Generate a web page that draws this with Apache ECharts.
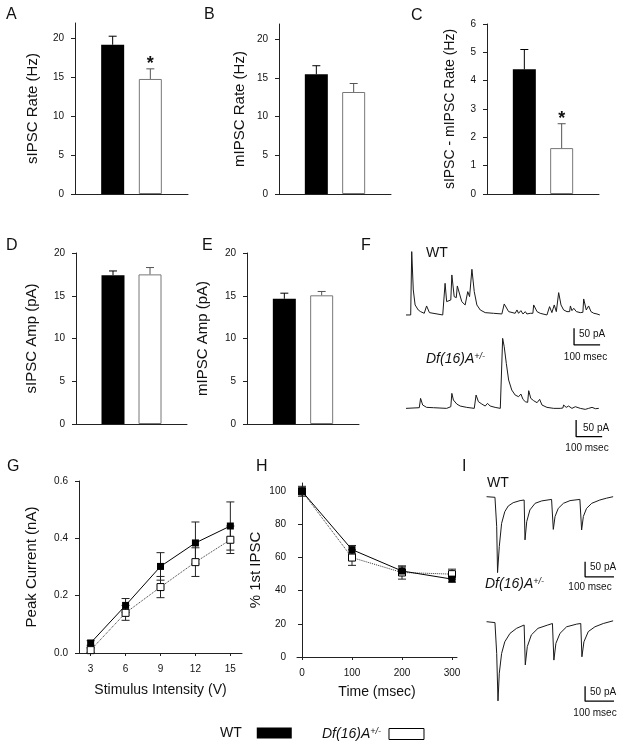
<!DOCTYPE html>
<html><head><meta charset="utf-8">
<script src="https://cdn.jsdelivr.net/npm/echarts@6/dist/echarts.min.js"></script>
<style>html,body{margin:0;padding:0;background:#fff}#c{width:624px;height:748px}</style>
</head><body><div id="c"></div>
<script>
// ---------------- DATA ----------------
const groupNames = ['WT', 'Df(16)A+/-'];
const barCats = ['pre', 'WT', 'Df', 'post'];

// A: sIPSC rate (Hz)
const sRate = [19.2, 14.8], sRateErr = [1.1, 1.3], sRateSig = [0, 1];
// B: mIPSC rate (Hz)
const mRate = [15.5, 13.2], mRateErr = [1.1, 1.1], mRateSig = [0, 0];
// C: sIPSC - mIPSC rate (Hz)
const diffRate = [4.4, 1.62], diffRateErr = [0.7, 0.86], diffRateSig = [0, 1];
// D: sIPSC amplitude (pA)
const sAmp = [17.4, 17.5], sAmpErr = [0.5, 0.8], sAmpSig = [0, 0];
// E: mIPSC amplitude (pA)
const mAmp = [14.65, 15.05], mAmpErr = [0.65, 0.45], mAmpSig = [0, 0];

const rateTicks = [0, 5, 10, 15, 20];
const diffTicks = [0, 1, 2, 3, 4, 5, 6];

// G: peak current vs stimulus intensity
const stimV = [3, 6, 9, 12, 15];
const peakWT = [0.035, 0.166, 0.302, 0.384, 0.443];
const peakWTErr = [0.008, 0.024, 0.048, 0.073, 0.084];
const peakDf = [0.01, 0.14, 0.23, 0.317, 0.395];
const peakDfErr = [0.008, 0.026, 0.037, 0.05, 0.048];
const peakTicks = [0, 0.2, 0.4, 0.6];

// H: % of 1st IPSC vs time
const timeMs = [0, 100, 200, 300];
const ppWT = [100, 64.8, 51.9, 47];
const ppWTErr = [3, 2.5, 2.5, 1.8];
const ppDf = [100, 60, 51, 50];
const ppDfErr = [2, 4.7, 4, 3];
const pctTicks = [0, 20, 40, 60, 80, 100];

// F: spontaneous IPSC traces [msec, pA]
const fTraceWT = [[0,0],[18,0],[22,190],[28,75],[35,30],[47,15],[56,10],[70,5],[75,5],[79,27],[90,7],[141,0],[147,2],[150,95],[156,40],[172,45],[176,120],[185,55],[193,52],[197,87],[214,40],[227,30],[234,32],[237,70],[244,55],[250,58],[253,137],[262,70],[272,30],[285,15],[304,7],[336,5],[368,3],[374,3],[377,33],[394,10],[419,5],[426,15],[432,5],[441,13],[449,3],[458,10],[464,3],[477,5],[487,5],[490,30],[503,10],[515,5],[541,0],[548,2],[551,25],[560,7],[566,8],[569,30],[577,10],[583,12],[586,67],[595,30],[605,15],[618,10],[628,10],[631,27],[637,13],[644,20],[654,10],[669,7],[679,8],[682,48],[692,15],[698,13],[701,27],[710,10],[721,5],[733,3],[744,0]];
const fTraceDf = [[0,0],[51,2],[54,2],[56,30],[64,10],[79,3],[105,2],[156,0],[172,5],[176,45],[182,25],[195,13],[208,7],[233,3],[262,0],[266,2],[269,40],[278,20],[291,13],[304,7],[310,8],[313,15],[323,7],[342,3],[362,0],[368,3],[371,210],[377,185],[385,135],[394,85],[406,55],[419,40],[432,35],[437,33],[441,43],[449,27],[458,20],[467,18],[471,53],[479,30],[490,23],[503,17],[510,15],[513,27],[522,10],[541,3],[567,0],[592,0],[602,1],[605,10],[615,3],[624,7],[637,0],[650,5],[669,0],[688,-3],[701,0],[714,3],[727,-1],[740,0]];

// I: evoked IPSC trains (4 pulses, 100 msec apart) [msec, pA]
const iTraceWT = [[2,2],[31,0],[37,-98],[40,-251],[46,-164],[54,-87],[65,-48],[77,-29],[94,-18],[118,-11],[132,-9],[135,-142],[141,-81],[152,-42],[170,-20],[193,-12],[227,-7],[233,-107],[239,-64],[250,-37],[268,-20],[291,-11],[325,-7],[331,-109],[337,-64],[348,-37],[366,-20],[394,-9],[417,-3],[440,2]];
const iTraceDf = [[2,0],[31,-3],[37,-106],[41.5,-264],[46,-172],[54,-106],[65,-67],[83,-39],[106,-22],[132,-11],[136,-144],[143,-83],[157,-44],[180,-22],[214,-11],[230,-6],[235,-128],[242,-72],[256,-39],[279,-17],[314,-8],[328,-6],[332,-117],[339,-67],[354,-33],[377,-17],[406,-6],[440,3]];

// scale bars: 50 pA, 100 msec
const scalePA = 50, scaleMs = 100;
const fScaleCornerWT = [645, -90];
const fScaleCornerDf = [653, -85];
const iScaleCorner = [343, -265];

// ---------------- STYLE / LAYOUT ----------------
const FONT = '"Liberation Sans", Arial, sans-serif';
const TXT = '#111';
const AX = '#222';

const grids = [
  {left: 75,  top: 23,  width: 113, height: 171},  // 0 A
  {left: 279, top: 24,  width: 112, height: 170},  // 1 B
  {left: 487, top: 24,  width: 112, height: 170},  // 2 C
  {left: 76,  top: 253, width: 111, height: 171},  // 3 D
  {left: 247, top: 253, width: 112, height: 171},  // 4 E
  {left: 79,  top: 481, width: 163, height: 172},  // 5 G
  {left: 297, top: 483, width: 160, height: 174},  // 6 H
  {left: 406, top: 248.3, width: 198, height: 100},// 7 F WT
  {left: 406, top: 331.7, width: 198, height: 110},// 8 F Df
  {left: 486, top: 488.3, width: 130, height: 99}, // 9 I WT
  {left: 486, top: 612.7, width: 130, height: 99}  // 10 I Df
];

const xAxis = [], yAxis = [], series = [], graphic = [];

function yAxisCfg(gi, min, max, ticks, name, gap, size, fmt) {
  return {
    type: 'value', gridIndex: gi, min: min, max: max,
    name: name, nameLocation: 'middle', nameGap: gap, nameRotate: 90,
    nameTextStyle: {fontSize: size, fontFamily: FONT, color: TXT},
    axisLine: {show: true, lineStyle: {color: AX, width: 1}},
    axisTick: {show: true, inside: false, length: 4, customValues: ticks, lineStyle: {color: AX}},
    axisLabel: {customValues: ticks, fontSize: 10, fontFamily: FONT, color: TXT, margin: 11, formatter: fmt},
    splitLine: {show: false}
  };
}

function barErr(params, api) {
  const x = api.value(0), v = api.value(1), e = api.value(2), sig = api.value(3), g = api.value(4);
  const p0 = api.coord([x, v]), p1 = api.coord([x, v + e]);
  const col = g === 0 ? '#000' : '#555';
  const ch = [
    {type: 'line', shape: {x1: p0[0], y1: p0[1], x2: p1[0], y2: p1[1]}, style: {stroke: col, lineWidth: 1}},
    {type: 'line', shape: {x1: p1[0] - 4, y1: p1[1], x2: p1[0] + 4, y2: p1[1]}, style: {stroke: col, lineWidth: 1}}
  ];
  if (sig) {
    ch.push({type: 'text', x: p1[0], y: p1[1] - 5,
      style: {text: '*', fontSize: 18, fontWeight: 'bold', fontFamily: FONT, fill: TXT, align: 'center', verticalAlign: 'middle'}});
  }
  return {type: 'group', children: ch};
}

function addBarPanel(gi, vals, errs, sig, yMax, ticks, name, gap, size) {
  xAxis.push({type: 'category', gridIndex: gi, data: barCats, boundaryGap: false,
    axisTick: {show: false}, axisLabel: {show: false},
    axisLine: {show: true, lineStyle: {color: AX, width: 1}}, splitLine: {show: false}});
  yAxis.push(yAxisCfg(gi, 0, yMax, ticks, name, gap, size));
  series.push({type: 'bar', name: groupNames[0], xAxisIndex: gi, yAxisIndex: gi,
    data: ['-', vals[0], '-', '-'], barWidth: 23, barGap: '-100%',
    itemStyle: {color: '#000'}, silent: true});
  series.push({type: 'bar', name: groupNames[1], xAxisIndex: gi, yAxisIndex: gi,
    data: ['-', '-', vals[1], '-'], barWidth: 23, barGap: '-100%',
    itemStyle: {color: '#fff', borderColor: '#777', borderWidth: 1}, silent: true});
  series.push({type: 'custom', xAxisIndex: gi, yAxisIndex: gi, renderItem: barErr, z: 5, silent: true,
    data: [[1, vals[0], errs[0], sig[0], 0], [2, vals[1], errs[1], sig[1], 1]]});
}

addBarPanel(0, sRate, sRateErr, sRateSig, 22, rateTicks, 'sIPSC Rate (Hz)', 35, 15);
addBarPanel(1, mRate, mRateErr, mRateSig, 22, rateTicks, 'mIPSC Rate (Hz)', 32, 15);
addBarPanel(2, diffRate, diffRateErr, diffRateSig, 6, diffTicks, 'sIPSC - mIPSC Rate (Hz)', 30, 14);
addBarPanel(3, sAmp, sAmpErr, sAmpSig, 20, rateTicks, 'sIPSC Amp (pA)', 37, 15);
addBarPanel(4, mAmp, mAmpErr, mAmpSig, 20, rateTicks, 'mIPSC Amp (pA)', 37, 15);

function xyErr(params, api) {
  const x = api.value(0), y = api.value(1), e = api.value(2);
  const lo = api.coord([x, y - e]), hi = api.coord([x, y + e]);
  const st = {stroke: '#222', lineWidth: 1};
  return {type: 'group', children: [
    {type: 'line', shape: {x1: lo[0], y1: lo[1], x2: hi[0], y2: hi[1]}, style: st},
    {type: 'line', shape: {x1: hi[0] - 4, y1: hi[1], x2: hi[0] + 4, y2: hi[1]}, style: st},
    {type: 'line', shape: {x1: lo[0] - 4, y1: lo[1], x2: lo[0] + 4, y2: lo[1]}, style: st}
  ]};
}

function addLinePanel(gi, xs, xMin, xMax, xTicks, xName, xGap, yMax, yTicks, yName, yGap, wt, wtErr, df, dfErr, yFmt) {
  xAxis.push({type: 'value', gridIndex: gi, min: xMin, max: xMax,
    name: xName, nameLocation: 'middle', nameGap: xGap,
    nameTextStyle: {fontSize: 14, fontFamily: FONT, color: TXT},
    axisLine: {show: true, lineStyle: {color: AX, width: 1}},
    axisTick: {show: true, inside: false, length: 3, customValues: xTicks, lineStyle: {color: AX}},
    axisLabel: {customValues: xTicks, fontSize: 10, fontFamily: FONT, color: TXT, margin: 11},
    splitLine: {show: false}});
  yAxis.push(yAxisCfg(gi, 0, yMax, yTicks, yName, yGap, 15, yFmt));
  series.push({type: 'custom', xAxisIndex: gi, yAxisIndex: gi, renderItem: xyErr, z: 2, silent: true,
    data: xs.map((x, i) => [x, wt[i], wtErr[i]])});
  series.push({type: 'custom', xAxisIndex: gi, yAxisIndex: gi, renderItem: xyErr, z: 2, silent: true,
    data: xs.map((x, i) => [x, df[i], dfErr[i]])});
  series.push({type: 'line', name: groupNames[1], xAxisIndex: gi, yAxisIndex: gi, z: 3,
    data: xs.map((x, i) => [x, df[i]]), symbol: 'rect', symbolSize: 7,
    lineStyle: {color: '#333', width: 1, type: 'dotted'},
    itemStyle: {color: '#fff', borderColor: '#000', borderWidth: 1}, silent: true});
  series.push({type: 'line', name: groupNames[0], xAxisIndex: gi, yAxisIndex: gi, z: 4,
    data: xs.map((x, i) => [x, wt[i]]), symbol: 'rect', symbolSize: 7,
    lineStyle: {color: '#000', width: 1},
    itemStyle: {color: '#000', borderColor: '#000', borderWidth: 0}, silent: true});
}

addLinePanel(5, stimV, 2, 16, stimV, 'Stimulus Intensity (V)', 30, 0.6, peakTicks, 'Peak Current (nA)', 40,
  peakWT, peakWTErr, peakDf, peakDfErr, v => v.toFixed(1));
addLinePanel(6, timeMs, -10, 310, timeMs, 'Time (msec)', 28, 105, pctTicks, '% 1st IPSC', 34,
  ppWT, ppWTErr, ppDf, ppDfErr);

function scaleBar(c) {
  return [[c[0], c[1] + scalePA], [c[0], c[1]], [c[0] + scaleMs, c[1]]];
}

function addTracePanel(gi, xMax, yMin, yMax, trace, corner) {
  xAxis.push({type: 'value', gridIndex: gi, min: 0, max: xMax, show: false});
  yAxis.push({type: 'value', gridIndex: gi, min: yMin, max: yMax, show: false});
  series.push({type: 'line', xAxisIndex: gi, yAxisIndex: gi, data: trace, showSymbol: false, symbol: 'none',
    lineStyle: {color: '#1a1a1a', width: 1}, silent: true});
  series.push({type: 'line', xAxisIndex: gi, yAxisIndex: gi, data: scaleBar(corner), showSymbol: false, symbol: 'none',
    lineStyle: {color: '#000', width: 1.3}, silent: true});
}

addTracePanel(7, 760, -100, 200, fTraceWT, fScaleCornerWT);
addTracePanel(8, 760, -100, 230, fTraceDf, fScaleCornerDf);
addTracePanel(9, 450, -300, 30, iTraceWT, iScaleCorner);
addTracePanel(10, 450, -300, 30, iTraceDf, iScaleCorner);

// ---------------- TEXT ----------------
function txt(x, y, s, size, extra) {
  graphic.push(Object.assign({type: 'text', x: x, y: y, silent: true,
    style: Object.assign({text: s, fontSize: size, fontFamily: FONT, fill: TXT, align: 'left', verticalAlign: 'top'}, extra || {})}));
}
const letters = [['A', 6, 6.3], ['B', 204, 6.3], ['C', 411, 7.3], ['D', 6, 237.3], ['E', 202, 237.3],
  ['F', 361, 237.3], ['G', 7, 459], ['H', 256, 459], ['I', 462, 459]];
letters.forEach(l => txt(l[1], l[2], l[0], 16));

const dfRich = {
  i: {fontSize: 14, fontStyle: 'italic', fontFamily: FONT, fill: TXT},
  s: {fontSize: 9, fontStyle: 'italic', fontFamily: FONT, fill: TXT, verticalAlign: 'top'}
};
txt(426, 246.5, 'WT', 14);
txt(426, 352, '{i|Df(16)A}{s|+/-}', 14, {rich: dfRich});
txt(487, 476, 'WT', 14);
txt(485, 577, '{i|Df(16)A}{s|+/-}', 14, {rich: dfRich});

const mid = {verticalAlign: 'middle'};
const midC = {verticalAlign: 'middle', align: 'center'};
txt(579, 334, '50 pA', 10, mid);
txt(585.5, 357, '100 msec', 10, midC);
txt(583, 428, '50 pA', 10, mid);
txt(587, 448, '100 msec', 10, midC);
txt(590, 567, '50 pA', 10, mid);
txt(590, 587, '100 msec', 10, midC);
txt(590, 692, '50 pA', 10, mid);
txt(595, 713, '100 msec', 10, midC);

const option = {
  animation: false,
  backgroundColor: '#fff',
  grid: grids.map(g => Object.assign({containLabel: false, outerBoundsMode: 'none'}, g)),
  xAxis: xAxis,
  yAxis: yAxis,
  legend: [
    {data: [{name: groupNames[0], icon: 'rect', itemStyle: {color: '#000', borderWidth: 0}}],
     left: 215, top: 721, itemWidth: 35, itemHeight: 11, align: 'right', selectedMode: false,
     textStyle: {fontSize: 14, fontFamily: FONT, color: TXT, padding: [0, 10, 0, 0]}},
    {data: [{name: groupNames[1], icon: 'rect', itemStyle: {color: '#fff', borderColor: '#000', borderWidth: 1}}],
     left: 317, top: 722, itemWidth: 35, itemHeight: 11, align: 'right', selectedMode: false,
     formatter: () => '{i|Df(16)A}{s|+/-}',
     textStyle: {fontSize: 14, fontFamily: FONT, color: TXT, padding: [0, 3, 0, 0],
       rich: {i: {fontSize: 14, fontStyle: 'italic', fontFamily: FONT, color: TXT},
              s: {fontSize: 9, fontStyle: 'italic', fontFamily: FONT, color: TXT, verticalAlign: 'top'}}}}
  ],
  graphic: graphic,
  series: series
};

const chart = echarts.init(document.getElementById('c'), null, {renderer: 'canvas'});
chart.setOption(option);
</script>
</body></html>
